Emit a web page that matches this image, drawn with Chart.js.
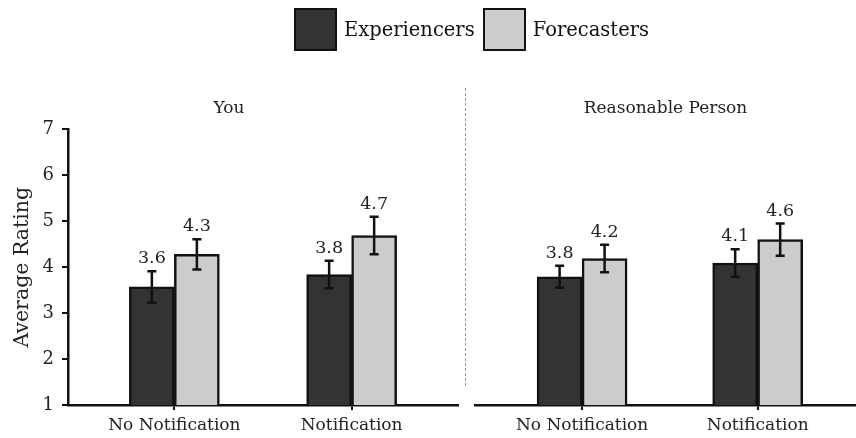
<!DOCTYPE html>
<html>
<head>
<meta charset="utf-8">
<script src="https://cdn.jsdelivr.net/npm/chart.js@4/dist/chart.umd.min.js"></script>
<style>
  body { margin: 0; background: #fff; }
  #wrap { position: relative; width: 856px; height: 438px; overflow: hidden; font-family: "DejaVu Serif", serif; }
  .panel { position: absolute; top: 0; height: 438px; }
  #legend { position: absolute; top: 8px; left: 294px; display: flex; align-items: center; color: #111; font-size: 19.5px; }
  #legend .box { width: 39px; height: 39px; border: 2px solid #111; margin-right: 7px; }
  #legend .txt { margin-right: 8px; }
</style>
</head>
<body>
<div id="wrap">
  <div class="panel" style="left:0;width:470px"><canvas id="chartYou"></canvas></div>
  <div class="panel" style="left:466px;width:390px"><canvas id="chartRp"></canvas></div>
  <div id="legend"></div>
</div>
<script>
const categories = ['No Notification', 'Notification'];
const seriesNames = ['Experiencers', 'Forecasters'];
const seriesColors = ['#333333', '#cccccc'];
const panelTitles = ['You', 'Reasonable Person'];
const yTicks = [1, 2, 3, 4, 5, 6, 7];

const youExperiencers = [3.57, 3.84];
const youForecasters = [4.28, 4.69];
const youExperiencersErr = [0.34, 0.30];
const youForecastersErr = [0.33, 0.41];

const rpExperiencers = [3.79, 4.09];
const rpForecasters = [4.19, 4.60];
const rpExperiencersErr = [0.24, 0.30];
const rpForecastersErr = [0.30, 0.35];

const FONT = '"DejaVu Serif", serif';

// legend
const legend = document.getElementById('legend');
seriesNames.forEach((name, i) => {
    const b = document.createElement('div');
    b.className = 'box';
    b.style.background = seriesColors[i];
    const t = document.createElement('span');
    t.className = 'txt';
    t.textContent = name;
    legend.appendChild(b);
    legend.appendChild(t);
});

// error bars + value labels
const errorBars = {
    id: 'errorBars',
    afterDatasetsDraw(chart) {
        const ctx = chart.ctx;
        const y = chart.scales.y;
        ctx.save();
        chart.data.datasets.forEach((ds, i) => {
            const meta = chart.getDatasetMeta(i);
            meta.data.forEach((bar, j) => {
                const v = ds.data[j].y;
                const e = ds.errors[j];
                const top = y.getPixelForValue(v + e);
                const bot = y.getPixelForValue(v - e);
                ctx.strokeStyle = '#111';
                ctx.lineWidth = 2.5;
                ctx.beginPath();
                ctx.moveTo(bar.x, top); ctx.lineTo(bar.x, bot);
                ctx.moveTo(bar.x - 4.5, top); ctx.lineTo(bar.x + 4.5, top);
                ctx.moveTo(bar.x - 4.5, bot); ctx.lineTo(bar.x + 4.5, bot);
                ctx.stroke();
                ctx.fillStyle = '#222';
                ctx.font = '17.5px ' + FONT;
                ctx.textAlign = 'center';
                ctx.textBaseline = 'alphabetic';
                ctx.fillText(v.toFixed(1), bar.x, top - 8);
            });
        });
        ctx.restore();
    }
};

// dashed divider between panels
const divider = {
    id: 'divider',
    afterDraw(chart) {
        const ctx = chart.ctx;
        const x = chart.chartArea.right + 7.5;
        ctx.save();
        ctx.strokeStyle = '#999';
        ctx.lineWidth = 1;
        ctx.setLineDash([3, 2]);
        ctx.beginPath();
        ctx.moveTo(x, 88);
        ctx.lineTo(x, 388);
        ctx.stroke();
        ctx.restore();
    }
};

function makeDatasets(exp, fore, expErr, foreErr) {
    return [
        { label: seriesNames[0], data: exp.map((v, i) => ({ x: i, y: v })), errors: expErr,
          backgroundColor: seriesColors[0], borderColor: '#111', borderWidth: 2.5, borderSkipped: 'start' },
        { label: seriesNames[1], data: fore.map((v, i) => ({ x: i, y: v })), errors: foreErr,
          backgroundColor: seriesColors[1], borderColor: '#111', borderWidth: 2.5, borderSkipped: 'start' }
    ];
}

function makeChart(id, title, datasets, xMin, xMax, showY, padLeft, padRight, plugins) {
    return new Chart(document.getElementById(id), {
        type: 'bar',
        data: { datasets: datasets },
        options: {
            responsive: true,
            maintainAspectRatio: false,
            animation: false,
            barThickness: 45,
            layout: { padding: { top: 0, bottom: 0, left: padLeft, right: padRight } },
            plugins: {
                legend: { display: false },
                tooltip: { enabled: false },
                title: {
                    display: true,
                    text: title,
                    color: '#222',
                    font: { family: FONT, size: 17, weight: 'normal' },
                    padding: { top: 98, bottom: 11 }
                }
            },
            scales: {
                x: {
                    type: 'linear',
                    min: xMin,
                    max: xMax,
                    offset: false,
                    afterBuildTicks: (axis) => { axis.ticks = categories.map((c, i) => ({ value: i })); },
                    afterFit: (scale) => { scale.height = 33; },
                    ticks: {
                        callback: (v) => categories[v] ?? '',
                        color: '#222',
                        font: { family: FONT, size: 17 },
                        padding: 5,
                        maxRotation: 0,
                        autoSkip: false
                    },
                    grid: { offset: false, drawOnChartArea: false, drawTicks: true, tickLength: 5, color: '#111', lineWidth: 2 },
                    border: { display: true, color: '#111', width: 2.5 }
                },
                y: {
                    display: showY,
                    min: 1,
                    max: 7,
                    afterBuildTicks: (axis) => { axis.ticks = yTicks.map(v => ({ value: v })); },
                    afterFit: (scale) => { if (showY) scale.width = 68; },
                    ticks: { color: '#222', font: { family: FONT, size: 18 }, padding: 8 },
                    title: {
                        display: true,
                        text: 'Average Rating',
                        color: '#222',
                        font: { family: FONT, size: 20.5 },
                        padding: { top: 10, bottom: 0 }
                    },
                    grid: { drawOnChartArea: false, drawTicks: true, tickLength: 6, color: '#111', lineWidth: 2 },
                    border: { display: true, color: '#111', width: 2.5 }
                }
            }
        },
        plugins: plugins
    });
}

makeChart('chartYou', panelTitles[0],
    makeDatasets(youExperiencers, youForecasters, youExperiencersErr, youForecastersErr),
    -0.6, 1.6, true, 0, 12, [errorBars, divider]);

makeChart('chartRp', panelTitles[1],
    makeDatasets(rpExperiencers, rpForecasters, rpExperiencersErr, rpForecastersErr),
    -0.61, 1.56, false, 9, 0, [errorBars]);
</script>
</body>
</html>
